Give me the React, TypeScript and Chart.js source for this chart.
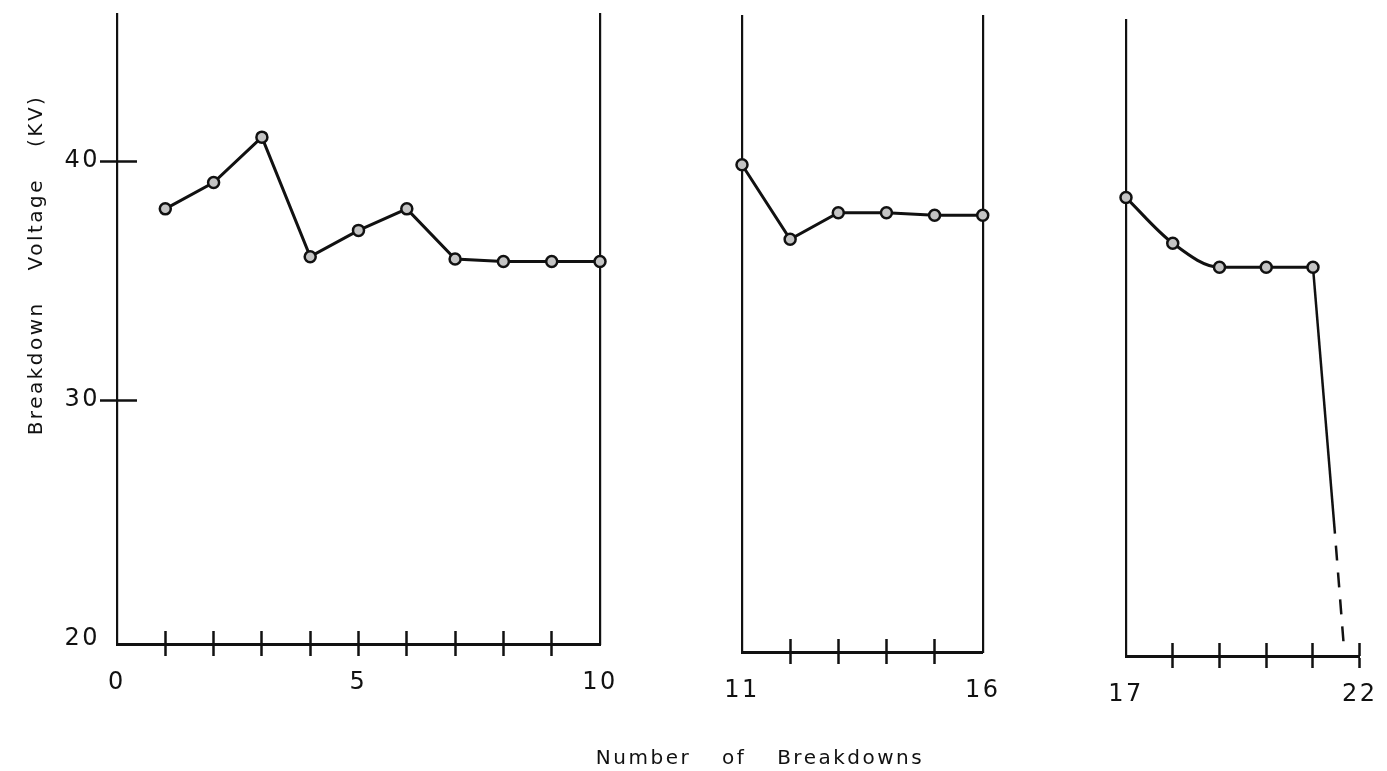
import React, { useEffect, useRef } from 'react';
import { Chart, registerables } from 'chart.js';

Chart.register(...registerables);

// ---------------- values ----------------
const panel1Breakdowns = [1, 2, 3, 4, 5, 6, 7, 8, 9, 10];
const panel1Voltage = [38.0, 39.1, 41.0, 36.0, 37.1, 38.0, 35.9, 35.8, 35.8, 35.8];

const panel2Breakdowns = [11, 12, 13, 14, 15, 16];
const panel2Voltage = [40.1, 37.0, 38.1, 38.1, 38.0, 38.0];

const panel3Breakdowns = [17, 18, 19, 20, 21];
const panel3Voltage = [38.9, 37.0, 36.0, 36.0, 36.0];

// final collapse after the 21st breakdown (solid, then dashed)
const collapseBreakdowns = [21, 21.47, 21.66];
const collapseVoltage = [36.0, 24.9, 20.2];

const voltageTickLabels = [20, 30, 40];
const panel1TickLabels = [0, 5, 10];
const panel2TickLabels = [11, 16];
const panel3TickLabels = [17, 22];

const Y_TITLE = 'Breakdown Voltage (KV)';
const X_TITLE = 'Number of Breakdowns';

// ---------------- styling / layout ----------------
const INK = '#111111';
const MARKER_FILL = '#c4c4c4';
const FONT = 'DejaVu Sans';
const PAGE_W = 1387;
const PAGE_H = 771;
const Y_MIN = 19.8;
const PX_PER_KV = 24;
const TITLE_SIZE = 20;
const TRANSPARENT = 'rgba(0,0,0,0)';

const toPoints = (xs: number[], ys: number[]) => xs.map((x, i) => ({ x, y: ys[i] }));

const markerLine = (xs: number[], ys: number[], extra: any = {}) => ({
  type: 'line',
  data: toPoints(xs, ys),
  borderColor: INK,
  borderWidth: 3,
  pointRadius: 5.5,
  pointHoverRadius: 5.5,
  pointBorderWidth: 2.5,
  pointBackgroundColor: MARKER_FILL,
  pointBorderColor: INK,
  tension: 0,
  clip: false,
  xAxisID: 'x',
  yAxisID: 'y',
  order: 1,
  ...extra,
});

const collapseLine = {
  type: 'line',
  data: toPoints(collapseBreakdowns, collapseVoltage),
  borderColor: INK,
  borderWidth: 2.5,
  pointRadius: 0,
  pointHoverRadius: 0,
  clip: false,
  xAxisID: 'x',
  yAxisID: 'y',
  order: 2,
  segment: {
    borderDash: (c: any) => (c.p0DataIndex >= 1 ? [15, 12] : undefined),
    borderDashOffset: (c: any) => (c.p0DataIndex >= 1 ? 15 : undefined),
  },
};

type Panel = {
  canvasLeft: number;
  canvasWidth: number;
  areaLeft: number;
  areaRight: number;
  areaTop: number;
  areaBottom: number;
  xMin: number;
  xMax: number;
  labels: number[];
  hiddenTicks: number[];
  rightBorder: boolean;
  yAxisLabels: boolean;
  bottomTitle: boolean;
  datasets: any[];
};

const panels: Panel[] = [
  {
    canvasLeft: 0, canvasWidth: 640,
    areaLeft: 117, areaRight: 600, areaTop: 12, areaBottom: 644,
    xMin: 0, xMax: 10,
    labels: panel1TickLabels, hiddenTicks: [0, 10],
    rightBorder: true, yAxisLabels: true, bottomTitle: false,
    datasets: [markerLine(panel1Breakdowns, panel1Voltage)],
  },
  {
    // canvas centred on the shared x-axis title (x = 760)
    canvasLeft: 510, canvasWidth: 500,
    areaLeft: 742, areaRight: 983, areaTop: 16, areaBottom: 652,
    xMin: 11, xMax: 16,
    labels: panel2TickLabels, hiddenTicks: [11, 16],
    rightBorder: true, yAxisLabels: false, bottomTitle: true,
    datasets: [markerLine(panel2Breakdowns, panel2Voltage)],
  },
  {
    canvasLeft: 1010, canvasWidth: 377,
    areaLeft: 1126, areaRight: 1364, areaTop: 20, areaBottom: 656,
    xMin: 17, xMax: 22,
    labels: panel3TickLabels, hiddenTicks: [17],
    rightBorder: false, yAxisLabels: false, bottomTitle: false,
    datasets: [
      markerLine(panel3Breakdowns, panel3Voltage, { cubicInterpolationMode: 'monotone' }),
      collapseLine,
    ],
  },
];

const spacingPlugin = {
  id: 'letterSpacing',
  beforeDraw(chart: any) {
    const ctx: any = chart.ctx;
    ctx.letterSpacing = '2.5px';
    ctx.wordSpacing = '22px';
  },
};

const yTitlePlugin = {
  id: 'yTitle',
  afterDraw(chart: any) {
    const ctx: any = chart.ctx;
    ctx.save();
    ctx.letterSpacing = '2.5px';
    ctx.wordSpacing = '22px';
    ctx.font = `${TITLE_SIZE}px "${FONT}"`;
    ctx.fillStyle = INK;
    ctx.textAlign = 'center';
    ctx.textBaseline = 'middle';
    ctx.translate(chart.chartArea.left - 80, 265);
    ctx.rotate(-Math.PI / 2);
    ctx.fillText(Y_TITLE, 0, 0);
    ctx.restore();
  },
};

function buildConfig(p: Panel): any {
  const yMax = Y_MIN + (p.areaBottom - p.areaTop) / PX_PER_KV;
  const canvasRight = p.canvasLeft + p.canvasWidth;
  const bottomExtra = p.bottomTitle ? TITLE_SIZE * 1.2 : 0;
  const xPxPerUnit = (p.areaRight - p.areaLeft) / (p.xMax - p.xMin);
  const tickFont = { family: FONT, size: 24 };
  const xTickColor = (c: any) => (c.tick && p.hiddenTicks.includes(c.tick.value) ? TRANSPARENT : INK);
  const yTickColor = (c: any) => (c.tick && c.tick.value === 20 ? TRANSPARENT : INK);

  const scales: any = {
    x: {
      type: 'linear',
      position: 'bottom',
      min: p.xMin,
      max: p.xMax,
      afterFit: (s: any) => {
        s.height = PAGE_H - p.areaBottom - bottomExtra;
      },
      ticks: {
        stepSize: 1,
        autoSkip: false,
        includeBounds: false,
        maxRotation: 0,
        minRotation: 0,
        padding: 12,
        color: INK,
        font: tickFont,
        callback: (v: any) => (p.labels.includes(v) ? String(v) : ''),
      },
      grid: {
        drawOnChartArea: false,
        drawTicks: true,
        tickLength: 12,
        tickWidth: 2.5,
        tickColor: xTickColor,
      },
      border: { display: true, color: INK, width: 3 },
    },
    y: {
      type: 'linear',
      position: 'left',
      display: true,
      min: Y_MIN,
      max: yMax,
      afterFit: (s: any) => {
        s.width = p.areaLeft - p.canvasLeft;
      },
      ticks: {
        display: p.yAxisLabels,
        stepSize: 10,
        includeBounds: false,
        padding: 0,
        color: INK,
        font: tickFont,
        callback: (v: any) => (voltageTickLabels.includes(v) ? String(v) : ''),
      },
      grid: {
        display: p.yAxisLabels,
        drawOnChartArea: false,
        drawTicks: p.yAxisLabels,
        tickLength: 17,
        tickWidth: 2.5,
        tickColor: yTickColor,
      },
      border: { display: true, color: INK, width: 2.2 },
    },
    xIn: {
      type: 'linear',
      position: { y: Y_MIN + 13 / PX_PER_KV },
      display: true,
      min: p.xMin,
      max: p.xMax,
      ticks: { display: false, stepSize: 1, autoSkip: false, includeBounds: false },
      grid: {
        drawOnChartArea: false,
        drawTicks: true,
        tickLength: 13,
        tickWidth: 2.5,
        tickColor: xTickColor,
      },
      border: { display: false },
    },
  };

  if (p.yAxisLabels) {
    scales.yIn = {
      type: 'linear',
      position: { x: p.xMin + 20 / xPxPerUnit },
      display: true,
      min: Y_MIN,
      max: yMax,
      ticks: { display: false, stepSize: 10, includeBounds: false },
      grid: {
        drawOnChartArea: false,
        drawTicks: true,
        tickLength: 20,
        tickWidth: 2.5,
        tickColor: yTickColor,
      },
      border: { display: false },
    };
  }

  if (p.rightBorder) {
    scales.yR = {
      type: 'linear',
      position: 'right',
      display: true,
      min: Y_MIN,
      max: yMax,
      afterFit: (s: any) => {
        s.width = canvasRight - p.areaRight;
      },
      ticks: { display: false },
      grid: { display: false, drawOnChartArea: false, drawTicks: false },
      border: { display: true, color: INK, width: 2.2 },
    };
  }

  return {
    type: 'line',
    data: { datasets: p.datasets },
    options: {
      animation: false,
      responsive: false,
      maintainAspectRatio: false,
      events: [],
      layout: {
        padding: {
          left: 0,
          right: p.rightBorder ? 0 : canvasRight - p.areaRight,
          top: p.areaTop,
          bottom: 0,
        },
      },
      scales,
      plugins: {
        legend: { display: false },
        tooltip: { enabled: false },
        title: {
          display: p.bottomTitle,
          position: 'bottom',
          fullSize: true,
          text: X_TITLE,
          color: INK,
          font: { family: FONT, size: TITLE_SIZE, weight: 'normal', lineHeight: 1.2 },
          padding: { top: 0, bottom: 0 },
        },
      },
    },
    plugins: p.yAxisLabels ? [spacingPlugin, yTitlePlugin] : [spacingPlugin],
  };
}

function PanelChart({ panel }: { panel: Panel }) {
  const ref = useRef<HTMLCanvasElement>(null);
  useEffect(() => {
    if (!ref.current) return;
    const chart = new Chart(ref.current, buildConfig(panel));
    return () => chart.destroy();
  }, [panel]);
  return (
    <canvas
      ref={ref}
      width={panel.canvasWidth}
      height={PAGE_H}
      style={{
        position: 'absolute',
        left: panel.canvasLeft,
        top: 0,
        width: panel.canvasWidth,
        height: PAGE_H,
      }}
    />
  );
}

export default function App() {
  return (
    <div
      style={{
        position: 'absolute',
        left: 0,
        top: 0,
        width: PAGE_W,
        height: PAGE_H,
        overflow: 'hidden',
        background: '#ffffff',
      }}
    >
      {panels.map((p, i) => (
        <PanelChart key={i} panel={p} />
      ))}
    </div>
  );
}
